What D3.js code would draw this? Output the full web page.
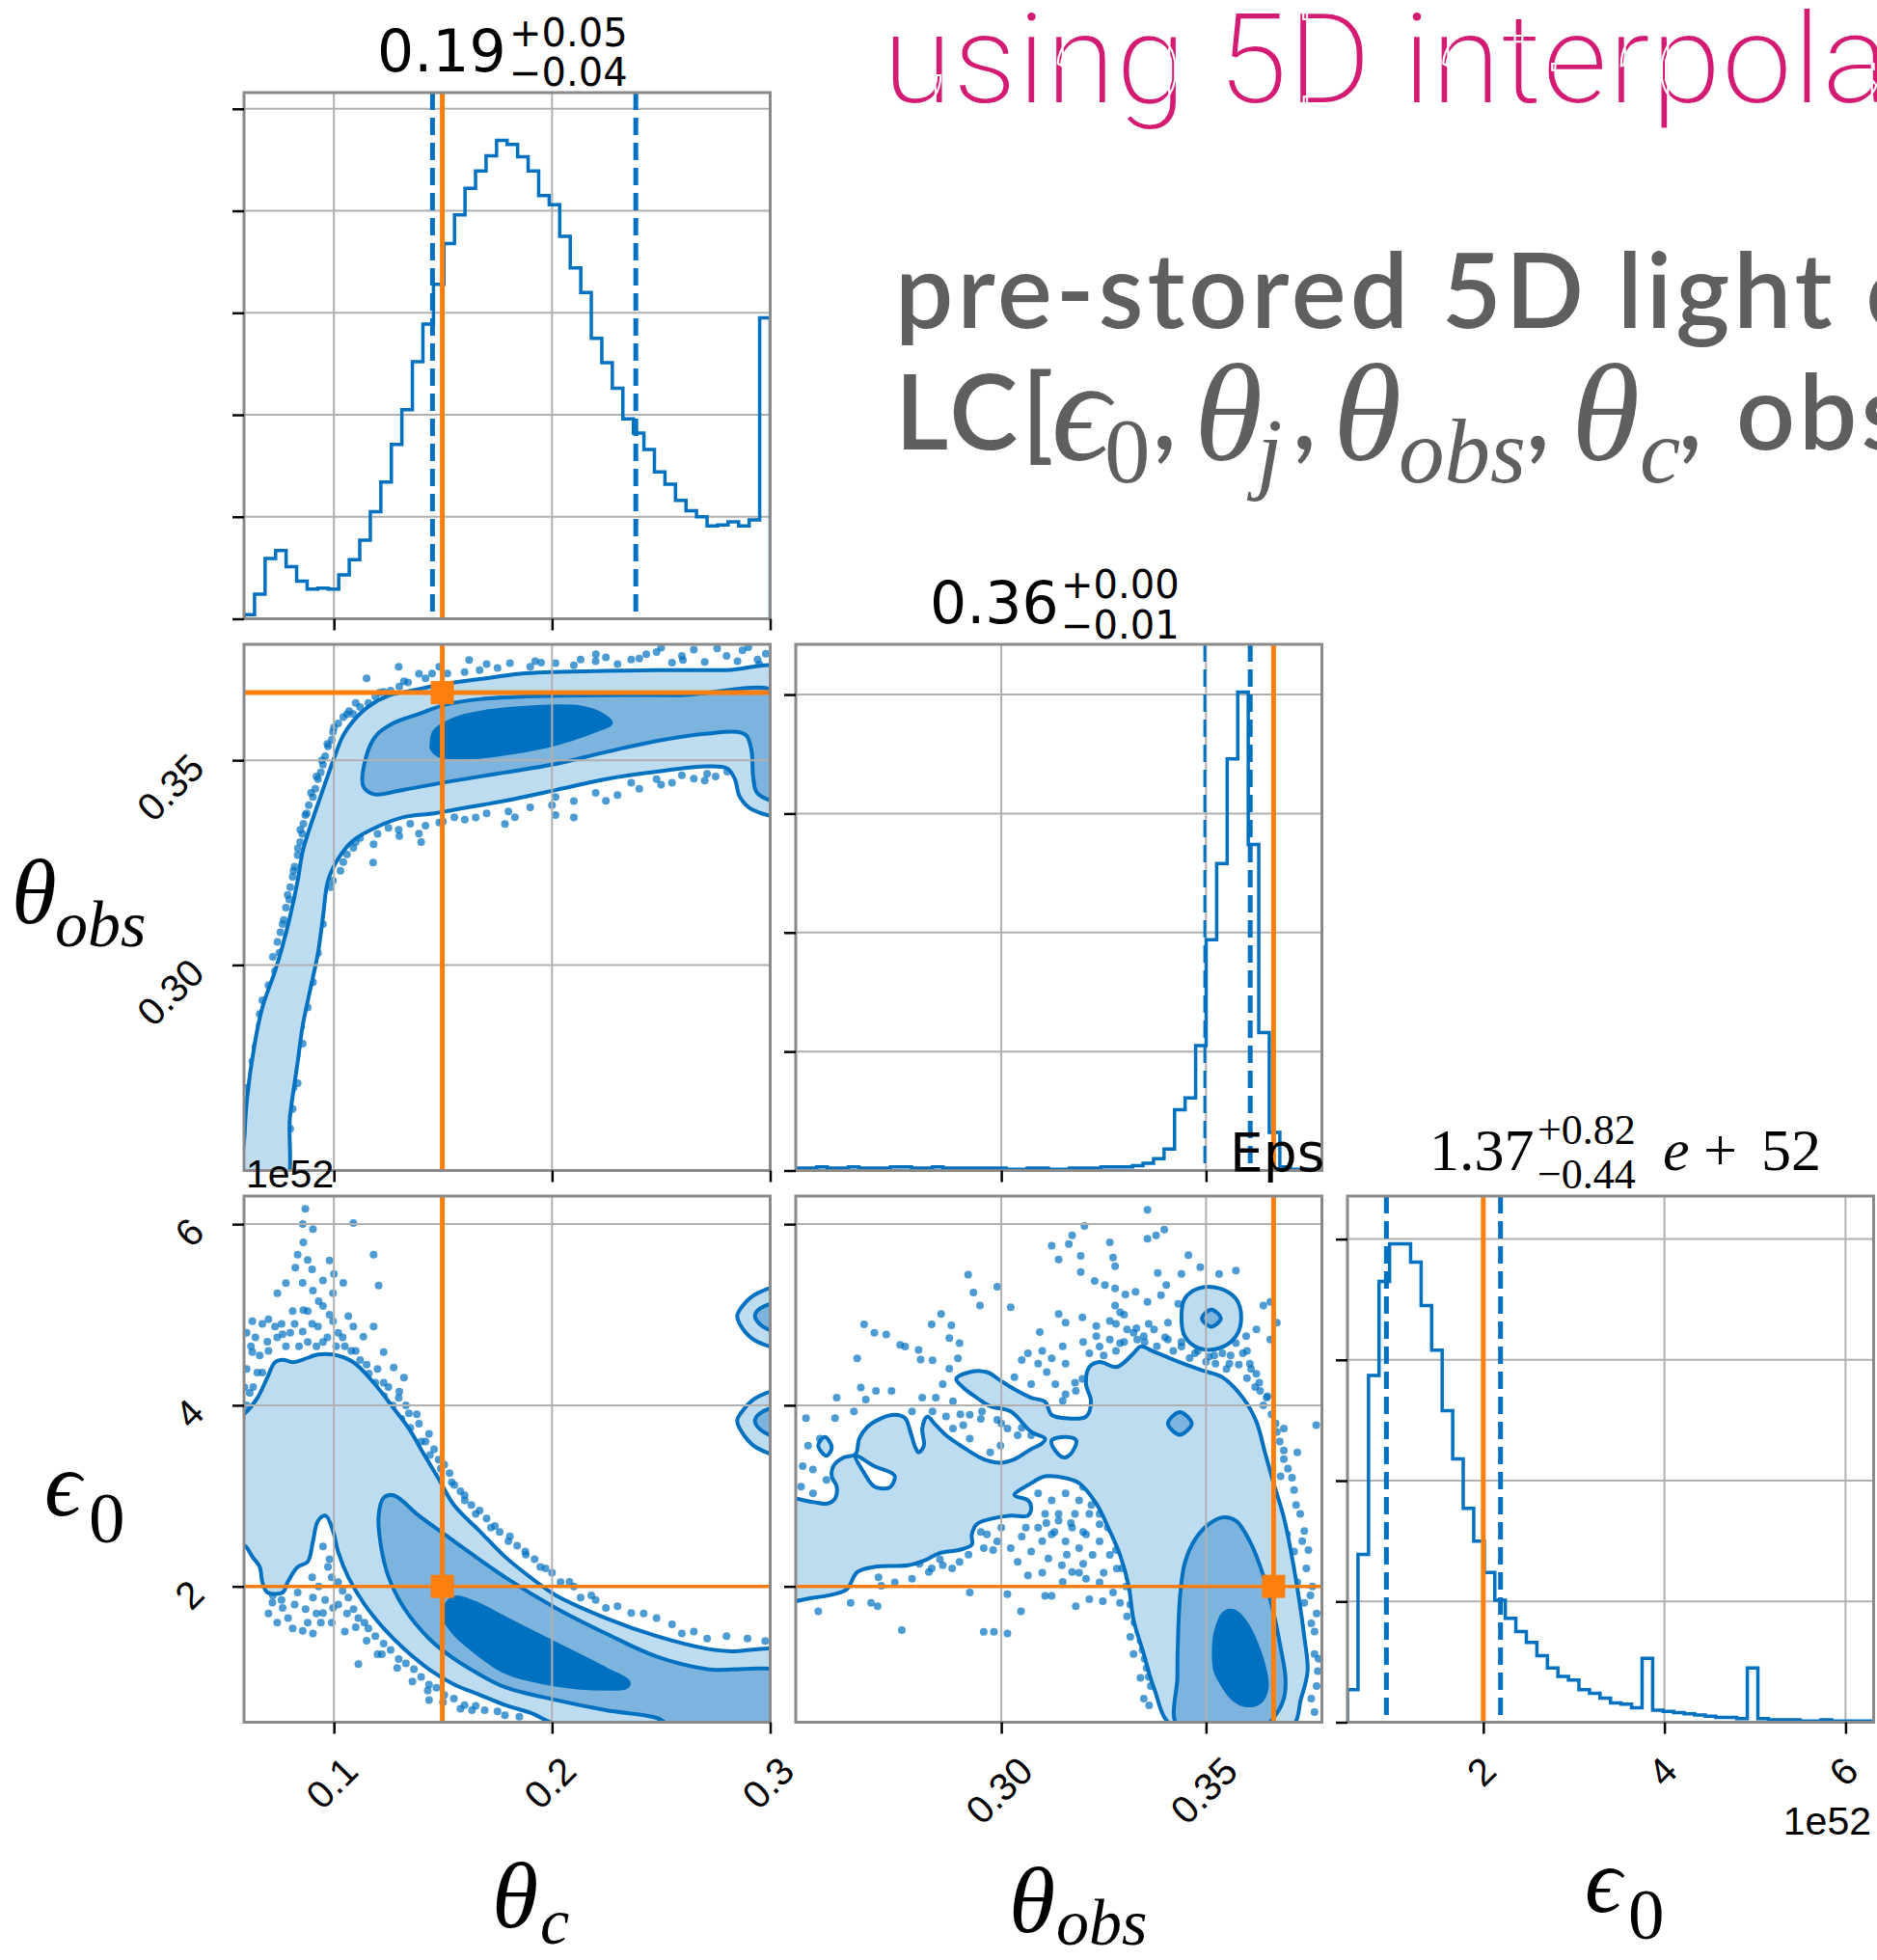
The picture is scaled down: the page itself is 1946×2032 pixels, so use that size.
<!DOCTYPE html>
<html>
<head>
<meta charset="utf-8">
<script src="https://cdn.jsdelivr.net/npm/d3@7"></script>
<style>
  html, body { margin: 0; padding: 0; background: #ffffff; }
  svg { display: block; }
</style>
</head>
<body>
<svg id="fig" width="1946" height="2032"></svg>
<script>
// ----------------------------------------------------------------------------
// Corner plot of the jet posterior: theta_c, theta_obs, epsilon_0 (1e52 units)
// ----------------------------------------------------------------------------

// axis ranges
const thetaCDomain   = [0.0588, 0.300];
const thetaObsDomain = [0.2498, 0.3783];
const eps0Domain     = [0.50, 6.31];

// tick values and their labels
const thetaCTicks        = [0.1, 0.2, 0.3];
const thetaCTickLabels   = ["0.1", "0.2", "0.3"];
const thetaObsTicks      = [0.30, 0.35];
const thetaObsTickLabels = ["0.30", "0.35"];
const eps0Ticks          = [2, 4, 6];
const eps0TickLabels     = ["2", "4", "6"];

// injected (true) values
const truthThetaC   = 0.1497;
const truthThetaObs = 0.3665;
const truthEps0     = 2.0;

// 16th / 84th percentile markers
const quantThetaC   = [0.1452, 0.2384];
const quantThetaObs = [0.3497, 0.3608];
const quantEps0     = [0.93, 2.19];

// 1D marginal histograms (50 bins spanning each axis range)
const histThetaC = [0.04,0.24,0.59,0.67,0.51,0.37,0.29,0.30,0.29,0.43,
                    0.58,0.77,1.05,1.34,1.71,2.05,2.52,2.89,3.28,3.68,
                    3.96,4.22,4.39,4.54,4.69,4.65,4.53,4.39,4.15,4.06,
                    3.75,3.44,3.20,2.75,2.51,2.26,1.96,1.82,1.66,1.44,
                    1.32,1.16,1.06,1.00,0.91,0.92,0.95,0.91,0.97,2.95];
const histThetaObs = [0.02,0.02,0.03,0.02,0.02,0.03,0.02,0.02,0.02,0.03,
                      0.03,0.02,0.02,0.03,0.02,0.02,0.02,0.02,0.02,0.02,
                      0.01,0.01,0.02,0.02,0.01,0.01,0.02,0.02,0.02,0.03,
                      0.03,0.03,0.04,0.06,0.10,0.18,0.51,0.61,1.05,1.94,
                      2.58,3.46,4.02,2.74,1.16,0.32,0.03,0.01,0.01,0.01];
const histEps0 = [0.27,1.39,2.87,3.65,3.96,3.96,3.81,3.45,3.08,2.58,
                  2.18,1.77,1.50,1.24,1.01,0.86,0.75,0.66,0.55,0.45,
                  0.38,0.35,0.27,0.24,0.20,0.16,0.15,0.12,0.53,0.10,
                  0.09,0.08,0.07,0.06,0.05,0.04,0.04,0.03,0.45,0.03,
                  0.02,0.02,0.02,0.01,0.01,0.02,0.01,0.01,0.01,0.01];

// ---- theta_obs vs theta_c : density contours [theta_c, theta_obs] ----
const obsC_light = [[0.0588,0.245],[0.0591,0.2587],[0.0602,0.2675],[0.0637,0.2808],[0.0672,0.2896],
  [0.0730,0.2985],[0.0765,0.3047],[0.0799,0.3118],[0.0834,0.3206],[0.0857,0.3277],[0.0892,0.3339],
  [0.0938,0.3410],[0.0996,0.3498],[0.1042,0.3560],[0.1089,0.3596],[0.1158,0.3631],[0.1251,0.3658],
  [0.1367,0.3671],[0.1483,0.3684],[0.1668,0.3698],[0.1853,0.3711],[0.1992,0.3715],[0.2247,0.3718],
  [0.2479,0.3720],[0.2800,0.3720],[0.306,0.3720],[0.306,0.3370],[0.2919,0.3379],[0.2861,0.3410],
  [0.2838,0.3454],[0.2803,0.3480],[0.2711,0.3485],[0.2479,0.3472],[0.2247,0.3454],[0.2016,0.3427],
  [0.1784,0.3401],[0.1552,0.3379],[0.1460,0.3370],[0.1321,0.3361],[0.1205,0.3339],[0.1089,0.3304],
  [0.1019,0.3259],[0.0973,0.3206],[0.0950,0.3118],[0.0927,0.3029],[0.0892,0.2941],[0.0857,0.2852],
  [0.0834,0.2763],[0.0799,0.2631],[0.0770,0.245]];
const obsC_mid = [[0.1135,0.3436],[0.1147,0.3507],[0.1193,0.3560],[0.1274,0.3591],[0.1390,0.3613],
  [0.1506,0.3635],[0.1668,0.3649],[0.1900,0.3656],[0.2247,0.3659],[0.2595,0.3659],[0.306,0.3659],
  [0.306,0.3401],[0.2942,0.3419],[0.2923,0.3454],[0.2914,0.3525],[0.2891,0.3560],[0.2849,0.3569],
  [0.2711,0.3565],[0.2479,0.3547],[0.2247,0.3520],[0.2016,0.3491],[0.1784,0.3470],[0.1552,0.3450],
  [0.1321,0.3428],[0.1182,0.3417]];
const obsC_core = [[0.1448,0.3542],[0.1459,0.3569],[0.1552,0.3600],[0.1691,0.3618],[0.1900,0.3629],
  [0.2131,0.3629],[0.2224,0.3613],[0.2270,0.3591],[0.2201,0.3573],[0.2085,0.3551],[0.1969,0.3534],
  [0.1784,0.3516],[0.1622,0.3507],[0.1483,0.3511],[0.1448,0.3529]];
const obsC_points = [[0.0591,0.2648],[0.0626,0.2764],[0.0660,0.2852],[0.0672,0.2914],[0.0730,0.2985],
  [0.0741,0.3056],[0.0765,0.3100],[0.0788,0.3171],[0.0811,0.3215],[0.0834,0.3268],[0.0846,0.3330],
  [0.0869,0.3366],[0.0904,0.3410],[0.0927,0.3454],[0.0950,0.3489],[0.0973,0.3534],[0.0996,0.3569],
  [0.1043,0.3605],[0.1089,0.3613],[0.1158,0.3640],[0.1228,0.3667],[0.1297,0.3728],[0.1321,0.3693],
  [0.1390,0.3711],[0.1483,0.3728],[0.1599,0.3715],[0.1668,0.3720],[0.1807,0.3737],[0.1923,0.3742],
  [0.2016,0.3737],[0.2131,0.3746],[0.2247,0.3751],[0.2432,0.3759],[0.2479,0.3764],[0.2595,0.3755],
  [0.2757,0.3773],[0.2873,0.3768],[0.2942,0.3746],[0.2363,0.3746],[0.2201,0.3759],[0.0996,0.3206],
  [0.1043,0.3251],[0.1089,0.3286],[0.1182,0.3295],[0.1297,0.3330],[0.1390,0.3321],[0.1483,0.3348],
  [0.1552,0.3361],[0.1784,0.3344],[0.1830,0.3361],[0.2016,0.3366],[0.2016,0.3410],[0.2247,0.3401],
  [0.2363,0.3445],[0.2479,0.3454],[0.2595,0.3463],[0.2711,0.3467],[0.2803,0.3472],[0.0950,0.3100],
  [0.0927,0.3029],[0.0904,0.2958],[0.0880,0.2896],[0.0834,0.2711],[0.0811,0.2648],[0.0857,0.2808],
  [0.0600,0.2700],[0.0640,0.2800],[0.0660,0.2880],[0.0700,0.2950],[0.0720,0.3020],[0.0755,0.3080],
  [0.0780,0.3140],[0.0800,0.3190],[0.0820,0.3240],[0.0845,0.3300],[0.0860,0.3345],[0.0885,0.3390],
  [0.0915,0.3430],[0.0940,0.3470],[0.0960,0.3510],[0.0990,0.3550],[0.1020,0.3590],[0.1070,0.3620],
  [0.1120,0.3630],[0.1190,0.3655],[0.1260,0.3670],[0.1340,0.3690],[0.1420,0.3700],[0.1520,0.3712],
  [0.1750,0.3725],[0.1900,0.3728],[0.2100,0.3732],[0.2300,0.3735],[0.2550,0.3738],[0.2700,0.3740],
  [0.2850,0.3742],[0.2950,0.3735],[0.1620,0.3745],[0.2650,0.3770],[0.1150,0.3700],[0.0905,0.3250],
  [0.0870,0.3150],[0.0880,0.3000],[0.0860,0.2930],[0.0850,0.2850],[0.0830,0.2780],[0.0815,0.2700],
  [0.0800,0.2600],[0.0925,0.3120],[0.0945,0.3160],[0.0985,0.3190],[0.1030,0.3230],[0.1060,0.3270],
  [0.1120,0.3310],[0.1250,0.3335],[0.1350,0.3345],[0.1420,0.3340],[0.1600,0.3355],[0.1700,0.3370],
  [0.1900,0.3385],[0.2100,0.3400],[0.2200,0.3420],[0.2400,0.3430],[0.2550,0.3445],[0.2650,0.3455],
  [0.2750,0.3460],[0.2850,0.3470],[0.1180,0.3250],[0.1400,0.3300],[0.2100,0.3360],
  [0.0610,0.2620],[0.0625,0.2690],[0.0650,0.2760],[0.0680,0.2840],[0.0705,0.2900],[0.0725,0.2960],
  [0.0750,0.3030],[0.0770,0.3110],[0.0795,0.3160],[0.0815,0.3230],[0.0835,0.3285],[0.0855,0.3320],
  [0.0875,0.3370],[0.0895,0.3420],[0.0920,0.3460],[0.0945,0.3500],[0.0970,0.3540],[0.1000,0.3580],
  [0.1060,0.3612],[0.1100,0.3640],[0.1210,0.3665],[0.1300,0.3680],[0.1450,0.3712],[0.1700,0.3735],
  [0.1950,0.3738],[0.2200,0.3742],[0.2400,0.3748],[0.2600,0.3745],[0.2800,0.3755],[0.2980,0.3760],
  [0.2900,0.3776],[0.2500,0.3775],[0.0900,0.3080],[0.0940,0.3140],[0.0975,0.3230],[0.1010,0.3260],
  [0.1100,0.3300],[0.1200,0.3320],[0.1300,0.3315],[0.1500,0.3350],[0.1650,0.3360],[0.1800,0.3375],
  [0.2000,0.3390],[0.2300,0.3415],[0.2500,0.3440],[0.2700,0.3450],[0.2900,0.3455],[0.2960,0.3430],
  [0.0870,0.2980],[0.0845,0.2900],[0.0825,0.2820],[0.0810,0.2740]];

// ---- epsilon_0 vs theta_c : density contours [theta_c, eps0] ----
const epsC_light = [[0.055,3.85],[0.0591,3.910],[0.0649,4.080],[0.0695,4.306],[0.0730,4.475],
  [0.0765,4.503],[0.0811,4.475],[0.0857,4.503],[0.0927,4.560],[0.0996,4.560],[0.1089,4.475],
  [0.1182,4.249],[0.1274,3.967],[0.1344,3.741],[0.1413,3.458],[0.1483,3.176],[0.1552,2.893],
  [0.1668,2.611],[0.1784,2.328],[0.1900,2.102],[0.2016,1.904],[0.2247,1.650],[0.2479,1.452],
  [0.2711,1.311],[0.2826,1.283],[0.306,1.266],[0.306,0.45],[0.2060,0.45],[0.1900,0.605],
  [0.1784,0.690],[0.1668,0.803],[0.1552,0.916],[0.1436,1.085],[0.1321,1.311],[0.1228,1.537],
  [0.1135,1.820],[0.1066,2.102],[0.1019,2.385],[0.0996,2.611],[0.0962,2.780],[0.0927,2.723],
  [0.0904,2.497],[0.0880,2.272],[0.0834,2.215],[0.0788,2.046],[0.0765,1.933],[0.0695,1.933],
  [0.0672,2.046],[0.0660,2.215],[0.0626,2.328],[0.0596,2.441],[0.055,2.50]];
const epsC_mid = [[0.1205,2.780],[0.1228,2.977],[0.1274,3.006],[0.1390,2.780],[0.1552,2.497],
  [0.1784,2.102],[0.2016,1.763],[0.2247,1.480],[0.2479,1.226],[0.2711,1.085],[0.306,1.028],
  [0.306,0.45],[0.2560,0.45],[0.2479,0.548],[0.2247,0.633],[0.2016,0.746],[0.1784,0.887],
  [0.1668,1.028],[0.1552,1.198],[0.1436,1.424],[0.1321,1.763],[0.1251,2.102],[0.1216,2.441]];
const epsC_core = [[0.1506,1.763],[0.1552,1.876],[0.1645,1.820],[0.1784,1.650],[0.2016,1.367],
  [0.2247,1.085],[0.2351,0.943],[0.2340,0.887],[0.2247,0.870],[0.2016,0.915],[0.1784,1.057],
  [0.1645,1.283],[0.1552,1.480],[0.1506,1.650]];
const epsC_islandsLight = [
  [[0.306,5.30],[0.2942,5.238],[0.2873,5.097],[0.2849,4.984],[0.2884,4.814],[0.2942,4.701],[0.306,4.65]],
  [[0.306,4.15],[0.2942,4.091],[0.2873,3.938],[0.2849,3.825],[0.2884,3.656],[0.2942,3.526],[0.306,3.46]]];
const epsC_islandsMid = [
  [[0.306,5.13],[0.2953,5.068],[0.2930,4.984],[0.2965,4.871],[0.306,4.81]],
  [[0.306,3.98],[0.2953,3.910],[0.2930,3.825],[0.2965,3.712],[0.306,3.65]]];
const epsC_points = [[0.0869,6.170],[0.0857,6.001],[0.0904,5.944],[0.1089,6.012],[0.0834,5.662],
  [0.0880,5.605],[0.0823,5.520],[0.0950,5.379],[0.0857,5.351],[0.0904,5.266],[0.1043,5.351],
  [0.0996,5.238],[0.0950,5.097],[0.0880,5.040],[0.0811,5.040],[0.0741,5.238],[0.0730,4.870],
  [0.0672,4.899],[0.0626,4.927],[0.0695,4.701],[0.0765,4.785],[0.0857,4.814],[0.0927,4.870],
  [0.0996,4.927],[0.1066,4.984],[0.1089,4.870],[0.1135,4.757],[0.1182,4.870],[0.1228,4.588],
  [0.1274,4.418],[0.1321,4.306],[0.1205,5.323],[0.1182,5.662],[0.1228,4.249],[0.1297,4.080],
  [0.1344,3.910],[0.1390,3.797],[0.1436,3.684],[0.1459,3.515],[0.1506,3.345],[0.1552,3.119],
  [0.1599,3.006],[0.1668,2.837],[0.1738,2.667],[0.1807,2.554],[0.1877,2.385],[0.1946,2.215],
  [0.2039,2.046],[0.2131,1.876],[0.2247,1.763],[0.2363,1.707],[0.2479,1.650],[0.2595,1.481],
  [0.2711,1.424],[0.2896,1.424],[0.2977,1.396],[0.0626,4.588],[0.0649,4.362],[0.0614,4.136],
  [0.0672,4.362],[0.0718,1.820],[0.0765,1.763],[0.0811,1.537],[0.0857,1.508],[0.0904,1.481],
  [0.0950,1.707],[0.0996,1.763],[0.0904,1.876],[0.0834,1.933],[0.0950,2.441],[0.0973,2.215],
  [0.1019,2.046],[0.1066,1.876],[0.1112,1.650],[0.1158,1.537],[0.1228,1.367],[0.1297,1.198],
  [0.1367,1.085],[0.1436,0.915],[0.1506,0.802],[0.1599,0.690],[0.1691,0.633],[0.1784,0.577],
  [0.1112,1.141],[0.1436,0.746],[0.1633,0.633],
  [0.0640,4.750],[0.0700,4.950],[0.0780,4.650],[0.0820,4.900],[0.0880,4.700],[0.0930,5.150],
  [0.0970,4.750],[0.1020,4.800],[0.1050,4.650],[0.1100,4.600],[0.1150,4.450],[0.1200,4.400],
  [0.1250,4.200],[0.1300,4.150],[0.1330,4.000],[0.1380,3.900],[0.1420,3.600],[0.1480,3.400],
  [0.1530,3.250],[0.1580,3.050],[0.1630,2.900],[0.1700,2.750],[0.1760,2.600],[0.1840,2.450],
  [0.1920,2.300],[0.2000,2.150],[0.2100,2.000],[0.2200,1.850],[0.2300,1.780],[0.2420,1.700],
  [0.2550,1.580],[0.2650,1.500],[0.2800,1.450],[0.0600,4.400],[0.0630,4.200],[0.0600,4.000],
  [0.0900,5.500],[0.0780,5.350],[0.0980,5.600],[0.0860,5.800],[0.1000,5.450],
  [0.0700,1.700],[0.0740,1.600],[0.0790,1.650],[0.0880,1.600],[0.0920,1.700],[0.0960,1.850],
  [0.0930,2.000],[0.0900,2.100],[0.0990,2.100],[0.1040,1.950],[0.1090,1.750],[0.1140,1.600],
  [0.1190,1.450],[0.1260,1.300],[0.1330,1.150],[0.1400,1.000],[0.1470,0.880],[0.1550,0.760],
  [0.1650,0.680],[0.1750,0.620],[0.1850,0.560],[0.1050,1.500],[0.1200,1.250],[0.0980,2.300],
  [0.0620,4.650],[0.0660,4.550],[0.0700,4.600],[0.0740,4.750],[0.0760,4.900],[0.0800,4.800],
  [0.0840,4.650],[0.0860,5.050],[0.0900,4.900],[0.0920,4.650],[0.0950,4.700],[0.0980,5.000],
  [0.1010,4.650],[0.1040,4.750],[0.1080,4.600],[0.1120,4.500],[0.1160,4.350],[0.1190,4.250],
  [0.1230,4.100],[0.1270,4.000],[0.1310,3.850],[0.1350,3.750],[0.1400,3.600],[0.1440,3.450],
  [0.1490,3.300],[0.1540,3.150],[0.1600,2.950],[0.1650,2.800],[0.1720,2.650],[0.1800,2.500],
  [0.1880,2.350],[0.1970,2.200],[0.2080,2.050],[0.2180,1.900],[0.0600,4.800],[0.0590,4.200],
  [0.0720,1.900],[0.0760,1.850],[0.0820,1.800],[0.0870,1.750],[0.0940,1.600],[0.0990,1.600],
  [0.1020,1.800],[0.1060,1.700],[0.1100,1.550],[0.1150,1.400],[0.1220,1.250],[0.1290,1.100],
  [0.1360,0.950],[0.1430,0.850],[0.1500,0.720],[0.1580,0.650]];

// ---- epsilon_0 vs theta_obs : density contours [theta_obs, eps0] ----
const epsObs_light = [[0.245,2.951],[0.2540,2.932],[0.2573,2.913],[0.2594,2.970],[0.2598,3.102],
  [0.2586,3.215],[0.2590,3.328],[0.2615,3.423],[0.2644,3.460],[0.2653,3.630],[0.2673,3.762],
  [0.2707,3.857],[0.2740,3.894],[0.2765,3.857],[0.2778,3.706],[0.2790,3.536],[0.2798,3.479],
  [0.2811,3.555],[0.2807,3.743],[0.2819,3.875],[0.2840,3.781],[0.2865,3.668],[0.2907,3.536],
  [0.2957,3.404],[0.2998,3.366],[0.3032,3.404],[0.3073,3.517],[0.3098,3.574],[0.3107,3.630],
  [0.3073,3.706],[0.3023,3.932],[0.2973,3.989],[0.2940,4.083],[0.2907,4.196],[0.2890,4.291],
  [0.2923,4.366],[0.2965,4.366],[0.2998,4.272],[0.3032,4.177],[0.3073,4.083],[0.3107,4.038],
  [0.3123,3.894],[0.3157,3.857],[0.3207,3.875],[0.3219,4.045],[0.3207,4.234],[0.3215,4.423],
  [0.3240,4.479],[0.3282,4.423],[0.3323,4.574],[0.3340,4.649],[0.3373,4.592],[0.3423,4.498],
  [0.3490,4.385],[0.3540,4.309],[0.3590,4.083],[0.3623,3.819],[0.3644,3.479],[0.3665,3.140],
  [0.3690,2.762],[0.3715,2.196],[0.3740,1.442],[0.3748,1.064],[0.3732,0.762],[0.3708,0.45],
  [0.3420,0.45],[0.3373,0.875],[0.3348,1.253],[0.3323,1.630],[0.3311,2.008],[0.3290,2.347],
  [0.3265,2.611],[0.3232,2.913],[0.3190,3.140],[0.3157,3.196],[0.3107,3.215],[0.3073,3.140],
  [0.3032,3.008],[0.3065,2.951],[0.3073,2.875],[0.3065,2.781],[0.3023,2.781],[0.2973,2.743],
  [0.2940,2.687],[0.2928,2.574],[0.2928,2.460],[0.2898,2.404],[0.2848,2.366],[0.2815,2.291],
  [0.2773,2.234],[0.2690,2.215],[0.2648,2.158],[0.2623,1.970],[0.2590,1.913],[0.2540,1.875],
  [0.245,1.857]];
const epsObs_holes = [
  [[0.2644,3.442],[0.2690,3.328],[0.2732,3.253],[0.2740,3.215],[0.2728,3.094],[0.2690,3.102],[0.2665,3.253]],
  [[0.3123,3.611],[0.3157,3.649],[0.3183,3.611],[0.3169,3.460],[0.3153,3.423],[0.3132,3.498]]];
const epsObs_mid = [[0.3432,0.45],[0.3430,1.0],[0.3432,1.5],[0.3437,1.913],[0.3448,2.256],
  [0.3473,2.517],[0.3507,2.687],[0.3540,2.762],[0.3573,2.725],[0.3607,2.498],[0.3640,2.121],
  [0.3665,1.706],[0.3682,1.328],[0.3694,0.989],[0.3690,0.762],[0.3669,0.574],[0.3640,0.45]];
const epsObs_core = [[0.3519,1.253],[0.3523,1.479],[0.3544,1.706],[0.3569,1.725],[0.3598,1.592],
  [0.3623,1.366],[0.3644,1.064],[0.3648,0.875],[0.3632,0.725],[0.3598,0.687],[0.3565,0.762],
  [0.3540,0.913],[0.3523,1.064]];
const epsObs_islandsLight = [
  [[0.3440,4.970],[0.3448,5.177],[0.3482,5.291],[0.3532,5.291],[0.3573,5.177],[0.3586,4.970],
   [0.3573,4.762],[0.3532,4.630],[0.3482,4.630],[0.3448,4.762]],
  [[0.2553,3.555],[0.2569,3.649],[0.2586,3.536],[0.2573,3.442]]];
const epsObs_islandsMid = [
  [[0.3490,4.958],[0.3513,5.057],[0.3536,4.958],[0.3513,4.868]],
  [[0.3407,3.800],[0.3436,3.925],[0.3465,3.800],[0.3436,3.675]]];
const epsObs_points = [[0.3357,6.158],[0.3203,5.981],[0.3173,5.875],[0.3165,5.781],[0.3123,5.762],
  [0.3194,5.649],[0.3140,5.611],[0.3265,5.800],[0.3273,5.630],[0.3278,5.536],[0.3194,5.472],
  [0.3228,5.374],[0.3253,5.328],[0.3278,5.291],[0.3357,5.838],[0.3378,5.875],[0.3398,5.940],
  [0.3457,5.657],[0.3486,5.525],[0.3573,5.487],[0.3532,5.449],[0.3440,5.449],[0.3382,5.460],
  [0.3403,5.328],[0.3390,5.215],[0.3432,5.121],[0.3357,5.140],[0.3328,5.253],[0.3303,5.223],
  [0.3278,5.102],[0.3290,5.026],[0.3265,4.932],[0.3232,4.875],[0.3198,4.970],[0.3157,4.913],
  [0.3140,5.008],[0.3094,4.808],[0.3023,5.083],[0.2990,5.309],[0.2919,5.442],[0.2932,5.245],
  [0.2948,5.102],[0.2853,5.008],[0.2830,4.894],[0.2878,4.883],[0.2873,4.743],[0.2898,4.687],
  [0.2894,4.517],[0.2873,4.404],[0.2832,4.498],[0.2803,4.506],[0.2798,4.611],[0.2765,4.649],
  [0.2753,4.668],[0.2719,4.781],[0.2690,4.800],[0.2665,4.894],[0.2648,4.517],[0.2657,4.196],
  [0.2694,4.158],[0.2732,4.158],[0.2669,4.064],[0.2598,4.083],[0.2594,3.857],[0.2640,3.932],
  [0.2523,3.857],[0.2528,3.555],[0.2557,3.630],[0.2515,3.328],[0.2540,3.291],[0.2573,3.177],
  [0.2511,3.102],[0.2540,3.026],[0.2923,3.894],[0.2953,3.932],[0.2990,3.838],[0.3015,3.743],
  [0.3040,3.668],[0.3073,3.668],[0.2973,3.479],[0.2923,3.630],[0.2882,3.743],[0.2865,3.875],
  [0.2907,3.781],[0.2998,3.555],[0.2840,4.083],[0.2857,4.234],[0.2882,4.045],[0.2832,3.932],
  [0.2782,3.932],[0.2807,4.083],[0.3065,4.574],[0.3090,4.460],[0.3111,4.366],[0.3132,4.234],
  [0.3157,4.121],[0.3182,4.158],[0.3198,4.291],[0.3157,4.460],[0.3123,4.517],[0.3073,4.234],
  [0.3032,4.309],[0.3307,4.838],[0.3323,4.800],[0.3348,4.762],[0.3373,4.838],[0.3407,4.913],
  [0.3407,4.725],[0.3440,4.649],[0.3473,4.574],[0.3507,4.536],[0.3540,4.574],[0.3573,4.687],
  [0.3590,4.574],[0.3607,4.460],[0.3623,4.347],[0.3632,4.158],[0.3648,4.083],[0.3598,4.762],
  [0.3623,4.838],[0.3640,5.102],[0.3657,5.140],[0.3673,4.913],[0.3657,4.725],[0.3557,4.460],
  [0.3523,4.460],[0.3332,4.725],[0.3290,4.687],[0.3265,4.725],[0.3240,4.649],[0.3215,4.574],
  [0.3232,4.762],[0.3673,3.706],[0.3690,3.404],[0.3682,3.215],[0.3715,3.064],[0.3723,3.479],
  [0.3698,2.574],[0.3740,2.611],[0.3715,2.385],[0.3723,2.045],[0.3740,1.819],[0.3757,1.592],
  [0.3765,1.253],[0.3773,1.064],[0.3757,0.762],[0.3765,0.611],[0.3690,3.743],[0.3769,3.781],
  [0.3090,3.026],[0.3123,2.951],[0.3157,3.026],[0.3190,2.951],[0.3215,2.800],[0.3240,2.687],
  [0.3107,2.800],[0.3140,2.725],[0.3173,2.649],[0.3207,2.574],[0.3240,2.498],[0.3265,2.347],
  [0.3282,2.196],[0.3223,2.347],[0.3190,2.423],[0.3157,2.498],[0.3123,2.574],[0.3090,2.649],
  [0.3073,2.385],[0.3115,2.309],[0.3148,2.234],[0.3173,2.158],[0.3207,2.083],[0.3240,2.045],
  [0.3273,1.932],[0.3290,1.819],[0.3307,1.668],[0.3315,1.442],[0.3323,1.253],[0.3340,0.989],
  [0.3348,0.762],[0.3361,0.687],[0.2990,2.498],[0.3023,2.423],[0.3040,2.272],[0.3065,2.121],
  [0.2965,2.574],[0.2957,2.423],[0.2898,2.272],[0.2857,2.234],[0.2823,2.158],[0.2782,2.083],
  [0.2740,2.045],[0.2707,2.008],[0.2682,1.819],[0.2698,1.781],[0.2632,1.819],[0.2553,1.725],
  [0.2757,1.517],[0.2923,1.932],[0.2957,1.498],[0.2982,1.498],[0.3015,1.479],[0.3015,1.913],
  [0.3048,1.725],[0.3107,1.894],[0.3123,1.894],[0.3182,1.781],[0.3215,1.857],[0.3248,1.838],
  [0.3300,4.700],[0.3350,4.700],[0.3380,4.650],[0.3420,4.600],[0.3460,4.520],[0.3500,4.480],
  [0.3550,4.400],[0.3600,4.300],[0.3620,4.200],[0.3640,4.000],[0.3660,3.900],[0.3680,3.600],
  [0.3700,3.300],[0.3720,2.900],[0.3735,2.500],[0.3745,2.200],[0.3755,1.900],[0.3765,1.500],
  [0.3775,1.200],[0.3770,0.900],[0.3200,3.100],[0.3230,3.000],[0.3250,2.850],[0.3270,2.700],
  [0.3290,2.500],[0.3300,2.300],[0.3310,2.100],[0.3320,1.900],[0.3330,1.700],[0.3335,1.500],
  [0.3345,1.300],[0.3355,1.100],[0.3365,0.900],[0.3180,2.800],[0.3130,2.600],[0.3100,2.500],
  [0.3160,2.350],[0.3200,2.250],[0.3250,2.150],[0.3050,2.550],[0.3000,2.650],[0.2950,2.600],
  [0.2900,2.450],[0.2850,2.300],[0.2800,2.250],[0.2700,2.100],[0.2600,2.000],[0.3100,3.700],
  [0.3050,3.750],[0.3000,3.800],[0.2950,3.850],[0.2900,3.900],[0.3150,4.050],[0.3180,4.250],
  [0.3250,4.550],[0.3280,4.600],[0.3450,4.800],[0.3520,4.700],[0.3600,4.600],[0.3480,4.850],
  [0.3330,4.850],[0.3360,4.900],[0.3400,4.750],[0.3440,4.700],[0.3480,4.600],[0.3520,4.550],
  [0.3560,4.550],[0.3580,4.450],[0.3610,4.400],[0.3630,4.250],[0.3650,4.100],[0.3670,3.800],
  [0.3690,3.500],[0.3710,3.200],[0.3730,2.800],[0.3750,2.400],[0.3760,2.000],[0.3770,1.700],
  [0.3220,2.900],[0.3240,2.800],[0.3260,2.650],[0.3280,2.400],[0.3295,2.200],[0.3305,2.000],
  [0.3315,1.800],[0.3325,1.600],[0.3340,1.400],[0.3350,1.200],[0.3360,1.000],[0.3140,2.800],
  [0.3170,2.700],[0.3200,2.600],[0.3110,2.700],[0.3060,2.650],[0.3190,2.150],[0.3150,2.050],
  [0.3100,2.150],[0.2880,2.200],[0.2920,2.350],[0.2980,2.400],[0.2830,2.200],[0.3280,4.900],
  [0.3300,5.000],[0.3200,4.700],[0.3150,4.650],[0.3100,4.600],[0.3050,4.500]];

// ----------------------------------------------------------------------------
// layout and styling
// ----------------------------------------------------------------------------
const PANEL = 545.5, GAP = 26.5, LEFT = 253, TOP = 96;
const colX = i => LEFT + i * (PANEL + GAP);
const rowY = i => TOP + i * (PANEL + GAP);

const BLUE = "#0070c0", LIGHT = "#bedcf0", MID = "#7db4de";
const ORANGE = "#ff7f0e", GRID = "#b0b0b0", FRAME = "#8a8a8a";
const TICK_FONT = "'Liberation Sans', Arial, sans-serif";
const TITLE_FONT = "'DejaVu Sans', sans-serif";
const MATH_FONT = "'Liberation Serif', 'DejaVu Serif', serif";

const svg = d3.select("#fig");
const defs = svg.append("defs");
let clipCount = 0;

function makePanel(ci, ri, xDomain, yDomain) {
  const x0 = colX(ci), y0 = rowY(ri);
  const xs = d3.scaleLinear().domain(xDomain).range([x0, x0 + PANEL]);
  const ys = d3.scaleLinear().domain(yDomain).range([y0 + PANEL, y0]);
  const id = "clip" + (clipCount++);
  defs.append("clipPath").attr("id", id)
    .append("rect").attr("x", x0).attr("y", y0).attr("width", PANEL).attr("height", PANEL);
  const g = svg.append("g");
  const inner = g.append("g").attr("clip-path", `url(#${id})`);
  return { x0, y0, xs, ys, g, inner };
}

function drawGrid(p, xVals, yVals) {
  const gg = p.inner.append("g");
  gg.selectAll("line.gx").data(xVals).join("line")
    .attr("x1", d => p.xs(d)).attr("x2", d => p.xs(d))
    .attr("y1", p.y0).attr("y2", p.y0 + PANEL)
    .attr("stroke", GRID).attr("stroke-width", 2);
  gg.selectAll("line.gy").data(yVals).join("line")
    .attr("y1", d => p.ys(d)).attr("y2", d => p.ys(d))
    .attr("x1", p.x0).attr("x2", p.x0 + PANEL)
    .attr("stroke", GRID).attr("stroke-width", 2);
}

function drawFrame(p) {
  p.g.append("rect").attr("x", p.x0).attr("y", p.y0)
    .attr("width", PANEL).attr("height", PANEL)
    .attr("fill", "none").attr("stroke", FRAME).attr("stroke-width", 3);
}

function vLine(p, v, w, dash) {
  p.inner.append("line")
    .attr("x1", p.xs(v)).attr("x2", p.xs(v)).attr("y1", p.y0).attr("y2", p.y0 + PANEL)
    .attr("stroke", dash ? BLUE : ORANGE).attr("stroke-width", w)
    .attr("stroke-dasharray", dash ? "18,8" : null);
}
function hLine(p, v, w) {
  p.inner.append("line")
    .attr("y1", p.ys(v)).attr("y2", p.ys(v)).attr("x1", p.x0).attr("x2", p.x0 + PANEL)
    .attr("stroke", ORANGE).attr("stroke-width", w);
}
function marker(p, xv, yv) {
  p.inner.append("rect")
    .attr("x", p.xs(xv) - 12).attr("y", p.ys(yv) - 12)
    .attr("width", 24).attr("height", 24).attr("fill", ORANGE);
}

// bottom axis: ticks (+ optional rotated labels)
function bottomAxis(p, ticks, labels) {
  const ax = d3.axisBottom(p.xs).tickValues(ticks).tickSize(12).tickPadding(4)
    .tickFormat((d, i) => labels ? labels[i] : "");
  const g = p.g.append("g").attr("transform", `translate(0,${p.y0 + PANEL})`).call(ax);
  styleAxis(g);
  if (labels) {
    g.selectAll(".tick text").each(function () {
      const t = d3.select(this);
      t.attr("dy", null).attr("text-anchor", "end");
      const w = this.getComputedTextLength();
      const bw = (w + 0.72 * 40) * Math.SQRT1_2;
      const px = bw / 2 - 3, py = 53;
      t.attr("x", px).attr("y", py).attr("transform", `rotate(-45,${px},${py})`);
    });
  }
}
// left axis: ticks (+ optional rotated labels)
function leftAxis(p, scale, ticks, labels) {
  const ax = d3.axisLeft(scale).tickValues(ticks).tickSize(12).tickPadding(4)
    .tickFormat((d, i) => labels ? labels[i] : "");
  const g = p.g.append("g").attr("transform", `translate(${p.x0},0)`).call(ax);
  styleAxis(g);
  if (labels) {
    g.selectAll(".tick text").each(function () {
      const t = d3.select(this);
      const px = -39, py = 10;
      t.attr("dy", null).attr("text-anchor", "end")
        .attr("x", px).attr("y", py).attr("transform", `rotate(-45,${px},${py})`);
    });
  }
}
function styleAxis(g) {
  g.select(".domain").remove();
  g.selectAll(".tick line").attr("stroke", "#000").attr("stroke-width", 2.5);
  g.selectAll(".tick text").attr("font-family", TICK_FONT).attr("font-size", 40).attr("fill", "#000");
}

// 1D histogram panel
function histPanel(ci, ri, xDomain, counts, xTicks, quants, truth, quantWidths) {
  const ymax = 1.1 * d3.max(counts);
  const p = makePanel(ci, ri, xDomain, [0, ymax]);
  const unitTicks = d3.range(0, Math.floor(ymax) + 1);
  drawGrid(p, xTicks, unitTicks.slice(1));
  const n = counts.length;
  const edges = d3.range(n + 1).map(i => xDomain[0] + i * (xDomain[1] - xDomain[0]) / n);
  const pts = [[edges[0], 0]];
  counts.forEach((c, i) => { pts.push([edges[i], c]); pts.push([edges[i + 1], c]); });
  pts.push([edges[n], 0]);
  p.inner.append("path")
    .attr("d", d3.line().x(d => p.xs(d[0])).y(d => p.ys(d[1]))(pts))
    .attr("fill", "none").attr("stroke", BLUE).attr("stroke-width", 3.5)
    .attr("stroke-linejoin", "miter");
  quants.forEach((q, i) => vLine(p, q, quantWidths[i], true));
  vLine(p, truth, 5, false);
  drawFrame(p);
  leftAxis(p, p.ys, unitTicks, null);
  return p;
}

// 2D contour panel
const ringLine = (p) => d3.line().x(d => p.xs(d[0])).y(d => p.ys(d[1]))
  .curve(d3.curveCatmullRomClosed.alpha(0.5));

function contourPanel(ci, ri, xDomain, yDomain, pts, lightRings, lightHoles, midRings, coreRings) {
  const p = makePanel(ci, ri, xDomain, yDomain);
  const rl = ringLine(p);
  p.inner.append("g").selectAll("circle").data(pts).join("circle")
    .attr("cx", d => p.xs(d[0])).attr("cy", d => p.ys(d[1])).attr("r", 4)
    .attr("fill", BLUE).attr("fill-opacity", 0.7);
  const drawRings = (rings, fill, holes) => {
    rings.forEach((r, i) => {
      let d = rl(r);
      if (i === 0 && holes) holes.forEach(h => { d += rl(h); });
      p.inner.append("path").attr("d", d)
        .attr("fill", fill).attr("fill-rule", "evenodd")
        .attr("stroke", BLUE).attr("stroke-width", 4).attr("stroke-linejoin", "round");
    });
  };
  drawRings(lightRings, LIGHT, lightHoles);
  drawRings(midRings, MID, null);
  drawRings(coreRings, BLUE, null);
  return p;
}

// ----------------------------------------------------------------------------
// row 1 : theta_c marginal
// ----------------------------------------------------------------------------
const pC = histPanel(0, 0, thetaCDomain, histThetaC, thetaCTicks, quantThetaC, truthThetaC, [5, 5]);
bottomAxis(pC, thetaCTicks, null);

// ----------------------------------------------------------------------------
// row 2 : theta_obs vs theta_c, theta_obs marginal
// ----------------------------------------------------------------------------
const pOC = contourPanel(0, 1, thetaCDomain, thetaObsDomain, obsC_points,
  [obsC_light], null, [obsC_mid], [obsC_core]);
drawGrid(pOC, thetaCTicks, thetaObsTicks);
vLine(pOC, truthThetaC, 5, false);
hLine(pOC, truthThetaObs, 5);
marker(pOC, truthThetaC, truthThetaObs);
drawFrame(pOC);
leftAxis(pOC, pOC.ys, thetaObsTicks, thetaObsTickLabels);
bottomAxis(pOC, thetaCTicks, null);

const pO = histPanel(1, 1, thetaObsDomain, histThetaObs, thetaObsTicks, quantThetaObs, truthThetaObs, [3, 5]);
bottomAxis(pO, thetaObsTicks, null);

// ----------------------------------------------------------------------------
// row 3 : eps0 vs theta_c, eps0 vs theta_obs, eps0 marginal
// ----------------------------------------------------------------------------
const pEC = contourPanel(0, 2, thetaCDomain, eps0Domain, epsC_points,
  [epsC_light].concat(epsC_islandsLight), null, [epsC_mid].concat(epsC_islandsMid), [epsC_core]);
drawGrid(pEC, thetaCTicks, eps0Ticks);
vLine(pEC, truthThetaC, 5, false);
hLine(pEC, truthEps0, 3.5);
marker(pEC, truthThetaC, truthEps0);
drawFrame(pEC);
leftAxis(pEC, pEC.ys, eps0Ticks, eps0TickLabels);
bottomAxis(pEC, thetaCTicks, thetaCTickLabels);

const pEO = contourPanel(1, 2, thetaObsDomain, eps0Domain, epsObs_points,
  [epsObs_light].concat(epsObs_islandsLight), epsObs_holes,
  [epsObs_mid].concat(epsObs_islandsMid), [epsObs_core]);
drawGrid(pEO, thetaObsTicks, eps0Ticks);
vLine(pEO, truthThetaObs, 5, false);
hLine(pEO, truthEps0, 3.5);
marker(pEO, truthThetaObs, truthEps0);
drawFrame(pEO);
leftAxis(pEO, pEO.ys, eps0Ticks, null);
bottomAxis(pEO, thetaObsTicks, thetaObsTickLabels);

const pE = histPanel(2, 2, eps0Domain, histEps0, eps0Ticks, quantEps0, truthEps0, [5, 5]);
bottomAxis(pE, eps0Ticks, eps0TickLabels);

// ----------------------------------------------------------------------------
// text: marginal titles, offsets, axis labels
// ----------------------------------------------------------------------------
function txt(x, y, s, size, family, opts) {
  const o = opts || {};
  const t = svg.append("text").attr("x", x).attr("y", y).text(s)
    .attr("font-size", size).attr("font-family", family)
    .attr("font-style", o.italic ? "italic" : "normal")
    .attr("font-weight", o.weight || "normal")
    .attr("fill", o.fill || "#000")
    .attr("text-anchor", o.anchor || "start");
  if (o.spacing) t.attr("letter-spacing", o.spacing);
  if (o.thin) t.attr("stroke", "#ffffff").attr("stroke-width", o.thin);
  return t;
}

// marginal titles
txt(391, 74, "0.19", 60, TITLE_FONT);
txt(528, 48, "+0.05", 40, TITLE_FONT);
txt(528, 89, "\u22120.04", 40, TITLE_FONT);

txt(964, 646, "0.36", 60, TITLE_FONT);
txt(1100, 620, "+0.00", 40, TITLE_FONT);
txt(1100, 662, "\u22120.01", 40, TITLE_FONT);

txt(1482, 1213, "1.37", 62, MATH_FONT);
txt(1594, 1186, "+0.82", 44, MATH_FONT);
txt(1594, 1232, "\u22120.44", 44, MATH_FONT);
txt(1724, 1213, "e", 62, MATH_FONT, { italic: true });
txt(1766, 1213, "+", 62, MATH_FONT);
txt(1826, 1213, "52", 62, MATH_FONT);

txt(1275, 1214, "Eps", 55, TITLE_FONT);

// scientific-notation offsets
txt(255, 1231, "1e52", 41, TICK_FONT);
txt(1940, 1902, "1e52", 41, TICK_FONT, { anchor: "end" });

// axis labels
txt(12, 957, "\u03b8", 95, MATH_FONT, { italic: true });
txt(57, 981, "obs", 68, MATH_FONT, { italic: true });
txt(46, 1571, "\u03f5", 95, MATH_FONT, { italic: true });
txt(92, 1599, "0", 75, MATH_FONT);

txt(510, 1998, "\u03b8", 98, MATH_FONT, { italic: true });
txt(560, 2015, "c", 68, MATH_FONT, { italic: true });
txt(1046, 2003, "\u03b8", 98, MATH_FONT, { italic: true });
txt(1095, 2016, "obs", 68, MATH_FONT, { italic: true });
txt(1643, 1982, "\u03f5", 95, MATH_FONT, { italic: true });
txt(1688, 2010, "0", 75, MATH_FONT);

// ----------------------------------------------------------------------------
// slide headline text
// ----------------------------------------------------------------------------
const HEAD_FONT = "Roboto, 'Liberation Sans', sans-serif";
const BODY_FONT = "Lato, 'Open Sans', 'Liberation Sans', sans-serif";
const GRAY = "#5f5f5f";
txt(915, 107, "using 5D interpolation", 132, HEAD_FONT, { weight: 300, fill: "#d31b73", thin: 2 });
txt(928, 340, "pre-stored 5D light curves", 107, BODY_FONT, { weight: 600, fill: GRAY, spacing: 4 });
txt(928, 466, "LC[", 107, BODY_FONT, { weight: 600, fill: GRAY, spacing: 4 });
txt(1090, 477, "\u03f5", 150, MATH_FONT, { italic: true, fill: GRAY });
txt(1145, 500, "0", 95, MATH_FONT, { fill: GRAY });
txt(1195, 466, ",", 107, BODY_FONT, { weight: 600, fill: GRAY });
txt(1238, 477, "\u03b8", 145, MATH_FONT, { italic: true, fill: GRAY });
txt(1303, 500, "j", 95, MATH_FONT, { italic: true, fill: GRAY });
txt(1340, 466, ",", 107, BODY_FONT, { weight: 600, fill: GRAY });
txt(1382, 477, "\u03b8", 145, MATH_FONT, { italic: true, fill: GRAY });
txt(1450, 500, "obs", 95, MATH_FONT, { italic: true, fill: GRAY });
txt(1582, 466, ",", 107, BODY_FONT, { weight: 600, fill: GRAY });
txt(1629, 477, "\u03b8", 145, MATH_FONT, { italic: true, fill: GRAY });
txt(1700, 500, "c", 95, MATH_FONT, { italic: true, fill: GRAY });
txt(1740, 466, ",", 107, BODY_FONT, { weight: 600, fill: GRAY });
txt(1800, 466, "obs", 107, BODY_FONT, { weight: 600, fill: GRAY, spacing: 4 });
</script>
</body>
</html>
